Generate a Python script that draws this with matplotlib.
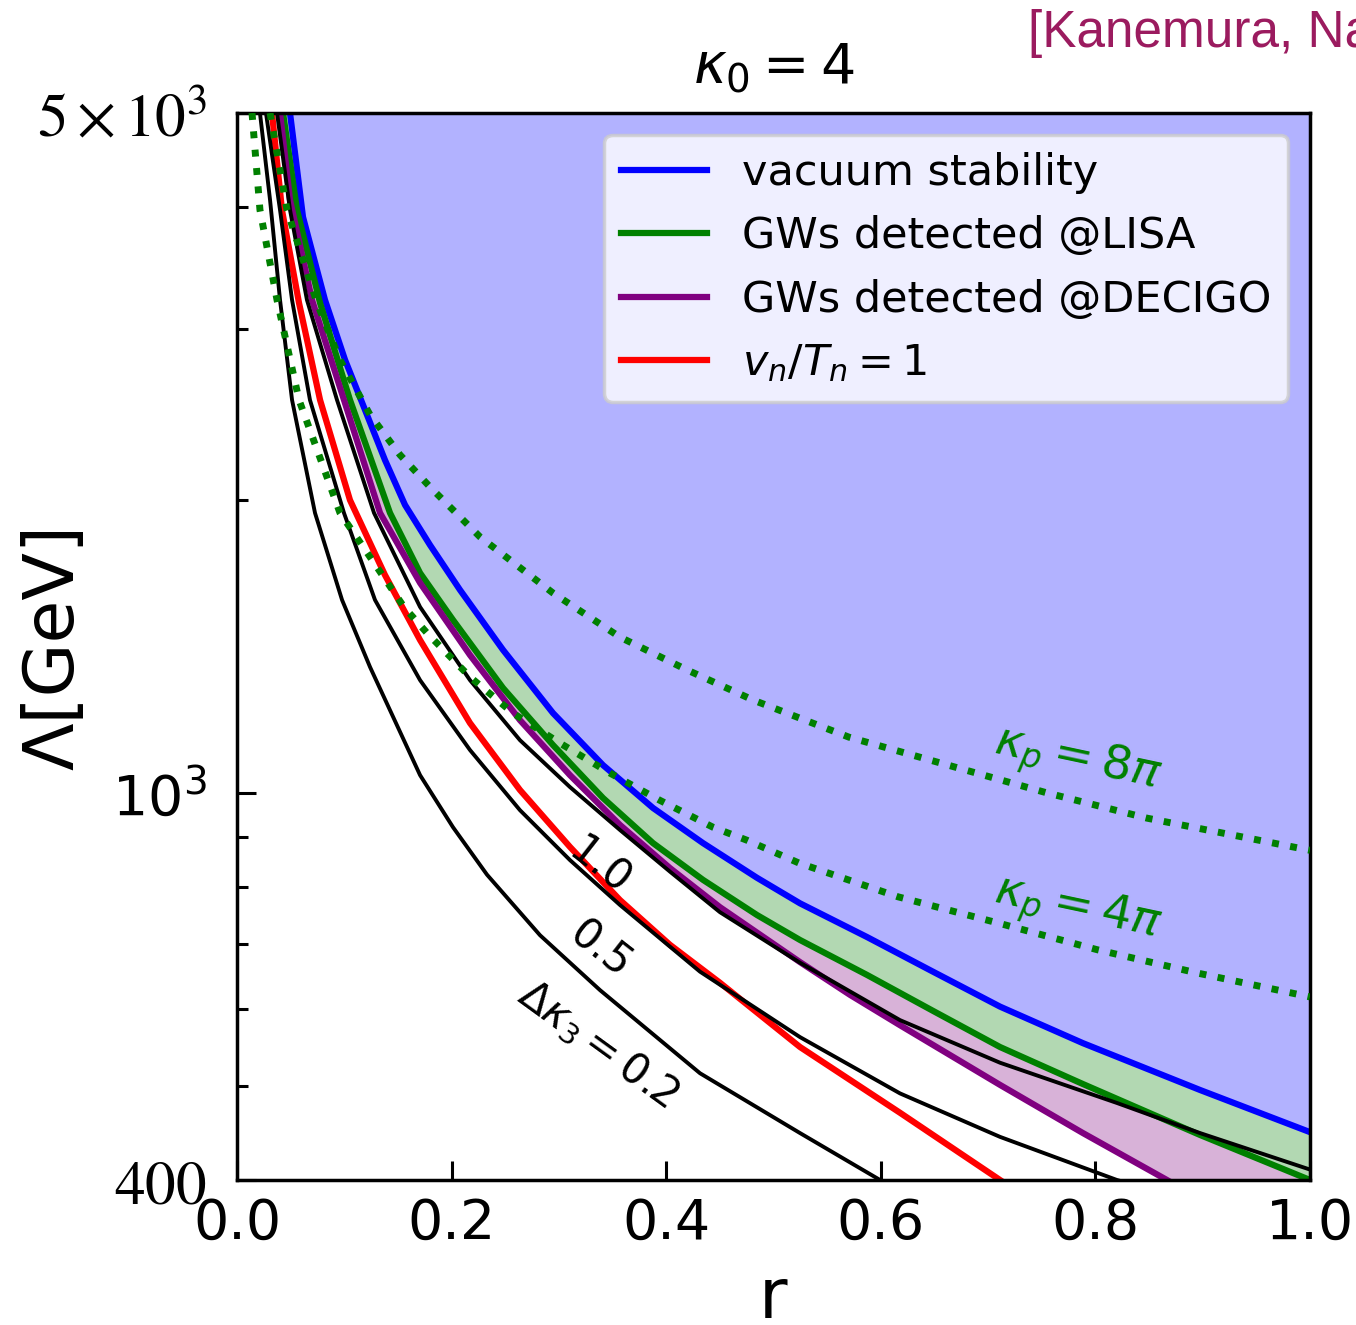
import matplotlib
matplotlib.use("Agg")
import matplotlib.pyplot as plt
from matplotlib.ticker import FixedLocator, NullFormatter

# vacuum stability bound
r_vac = [0.0494, 0.0615, 0.0820, 0.1007, 0.1193, 0.1379, 0.1566, 0.1799, 0.2078, 0.2479, 0.2945,
         0.3411, 0.3877, 0.4343, 0.4846, 0.5247, 0.5871, 0.6486, 0.7111, 0.7884, 0.8975, 1.0]
lam_vac = [5000, 3909, 3212, 2787, 2476, 2199, 1977, 1798, 1617, 1403, 1208,
           1068, 965, 888, 818, 770, 711, 655, 603, 553, 495, 448]

# GWs detected @LISA
r_lisa = [0.0429, 0.0559, 0.0774, 0.1053, 0.1426, 0.1706, 0.2013, 0.2479, 0.2945, 0.3411,
          0.3877, 0.4343, 0.4846, 0.5247, 0.5871, 0.6486, 0.7111, 0.7884, 0.8975, 1.0]
lam_lisa = [5000, 3975, 3189, 2535, 1940, 1683, 1506, 1282, 1120, 988,
            888, 814, 749, 706, 650, 597, 548, 502, 445, 400]

# GWs detected @DECIGO
r_decigo = [0.0401, 0.0494, 0.0699, 0.0997, 0.1333, 0.1706, 0.2171, 0.2637, 0.3103, 0.3569,
            0.4035, 0.4501, 0.5247, 0.5713, 0.6179, 0.7111, 0.7884, 0.8667, 0.9441]
lam_decigo = [5000, 4070, 3212, 2535, 1940, 1644, 1386, 1188, 1043, 927,
              837, 763, 670, 620, 577, 501, 447, 400, 357]

# v_n/T_n = 1
r_strong = [0.0326, 0.0419, 0.0578, 0.0774, 0.1053, 0.1379, 0.1706, 0.2171, 0.2637, 0.3103,
            0.3569, 0.4035, 0.4501, 0.5247, 0.6179, 0.7111]
lam_strong = [5000, 3975, 3189, 2535, 2000, 1675, 1436, 1180, 1007, 880,
              776, 698, 638, 548, 469, 400]

# Delta kappa_3 contours
r_dk02 = [0.0214, 0.0308, 0.0401, 0.0513, 0.0727, 0.0979, 0.1240, 0.1706, 0.2013, 0.2330,
          0.2824, 0.3383, 0.4315, 0.5247, 0.5993, 0.6179]
lam_dk02 = [5000, 4070, 3212, 2535, 1940, 1579, 1347, 1043, 922, 824,
            714, 627, 515, 447, 400, 391]

r_dk05 = [0.0270, 0.0401, 0.0513, 0.0680, 0.0997, 0.1286, 0.1706, 0.2171, 0.2637, 0.3103,
          0.3569, 0.4315, 0.5247, 0.6179, 0.7111, 0.8201, 0.8509]
lam_dk05 = [5000, 3975, 3212, 2535, 1940, 1579, 1306, 1107, 960, 853,
            767, 655, 561, 491, 443, 400, 391]

r_dk10 = [0.0373, 0.0494, 0.0652, 0.0932, 0.1277, 0.1706, 0.2171, 0.2637, 0.3103, 0.3569,
          0.4035, 0.4501, 0.5247, 0.6179, 0.7111, 0.8201, 0.8975, 1.0]
lam_dk10 = [5000, 3975, 3212, 2535, 1940, 1553, 1306, 1133, 1014, 916,
            830, 754, 669, 584, 528, 480, 447, 410]

# perturbative unitarity, kappa_p = 8 pi and 4 pi
r_kp8 = [0.0308, 0.0466, 0.0746, 0.0960, 0.1240, 0.1519, 0.1799, 0.2265, 0.2945, 0.3569,
         0.4194, 0.4809, 0.5704, 0.6626, 0.7549, 0.8481, 1.0]
lam_kp8 = [5000, 3975, 3189, 2787, 2447, 2226, 2063, 1833, 1605, 1446,
           1338, 1246, 1141, 1068, 1000, 942, 873]

r_kp4 = [0.0140, 0.0214, 0.0373, 0.0578, 0.0960, 0.1240, 0.1556, 0.1771, 0.2171, 0.2572,
         0.3010, 0.3476, 0.3938, 0.4436, 0.4753, 0.5238, 0.6160, 0.7092, 0.8015, 0.8947, 1.0]
lam_kp4 = [5000, 3975, 3212, 2535, 1940, 1748, 1553, 1460, 1316, 1208,
           1125, 1048, 983, 922, 894, 847, 782, 735, 690, 653, 617]

lam_min, lam_max = 400, 5000

fig = plt.figure(figsize=(13.56, 13.25), dpi=100)
ax = fig.add_axes([237 / 1356, 1 - 1180 / 1325, (1310 - 237) / 1356, (1180 - 113) / 1325])
ax.set_yscale("log")

# shaded regions
ax.fill(r_vac + [1.0, r_vac[0]], lam_vac + [lam_max, lam_max], color="blue", alpha=0.3, lw=0, zorder=1)
ax.fill(r_lisa + r_vac[::-1], lam_lisa + lam_vac[::-1], color="green", alpha=0.3, lw=0, zorder=1)
ax.fill(r_decigo + r_lisa[::-1], lam_decigo + lam_lisa[::-1], color="purple", alpha=0.3, lw=0, zorder=1)

lw = 4.5
ax.plot(r_vac, lam_vac, color="blue", lw=lw, label="vacuum stability", zorder=2)
ax.plot(r_lisa, lam_lisa, color="green", lw=lw, label="GWs detected @LISA", zorder=2)
ax.plot(r_decigo, lam_decigo, color="purple", lw=lw, label="GWs detected @DECIGO", zorder=2)
ax.plot(r_strong, lam_strong, color="red", lw=lw, label=r"$v_n/T_n=1$", zorder=2)

for rr, ll in [(r_dk02, lam_dk02), (r_dk05, lam_dk05), (r_dk10, lam_dk10)]:
    ax.plot(rr, ll, color="black", lw=2.8, zorder=3)

ax.plot(r_kp8, lam_kp8, color="green", lw=5, ls=":", zorder=4)
ax.plot(r_kp4, lam_kp4, color="green", lw=5, ls=":", zorder=4)

# contour labels
lbl = dict(ha="center", va="center", rotation_mode="anchor", zorder=5)
ax.text(0.338, 841, "1.0", rotation=-38, fontsize=30, **lbl)
ax.text(0.338, 690, "0.5", rotation=-38, fontsize=30, **lbl)
ax.text(0.336, 551, r"$\Delta\kappa_3 = 0.2$", rotation=-36, fontsize=30, **lbl)
ax.text(0.783, 1081, r"$\kappa_p = 8\pi$", rotation=-12, color="green", fontsize=34, **lbl)
ax.text(0.783, 758, r"$\kappa_p = 4\pi$", rotation=-12, color="green", fontsize=34, **lbl)

ax.set_xlim(0, 1)
ax.set_ylim(lam_min, lam_max)

ax.set_xticks([0.0, 0.2, 0.4, 0.6, 0.8, 1.0])
ax.set_xticklabels(["0.0", "0.2", "0.4", "0.6", "0.8", "1.0"])
ax.set_yticks([400, 1000, 5000])
ax.set_yticklabels([r"$400$", r"$10^3$", r"$5\times10^{3}$"])
ax.yaxis.set_minor_locator(FixedLocator([500, 600, 700, 800, 900, 2000, 3000, 4000]))
ax.yaxis.set_minor_formatter(NullFormatter())

ax.tick_params(which="both", direction="in", labelsize=40, width=2.2)
ax.tick_params(which="major", length=14, pad=12)
ax.tick_params(which="minor", length=8)
ax.tick_params(axis="y", which="major", pad=22)
# 400 and 5x10^3 use the serif math font
for t in ax.get_yticklabels():
    if t.get_text() != r"$10^3$":
        t.set_math_fontfamily("stix")
        t.set_fontsize(44)
for sp in ax.spines.values():
    sp.set_linewidth(2.5)

ax.set_xlabel("r", fontsize=50, labelpad=10)
ax.set_ylabel("Λ[GeV]", fontsize=50)
ax.yaxis.set_label_coords(-0.139, 0.5)
ax.set_title(r"$\kappa_0 = 4$", fontsize=40, pad=22)

leg = ax.legend(loc="upper right", fontsize=31, borderaxespad=0.5, handlelength=2.0)
leg.get_frame().set_linewidth(2.5)
leg.set_zorder(6)

fig.text(1028 / 1356, 1 - 33 / 1325, "[Kanemura, Na", fontsize=37, color="#9b1b5f",
         family=["Liberation Sans"], va="center", ha="left")

fig.savefig("out.png", dpi=100)
